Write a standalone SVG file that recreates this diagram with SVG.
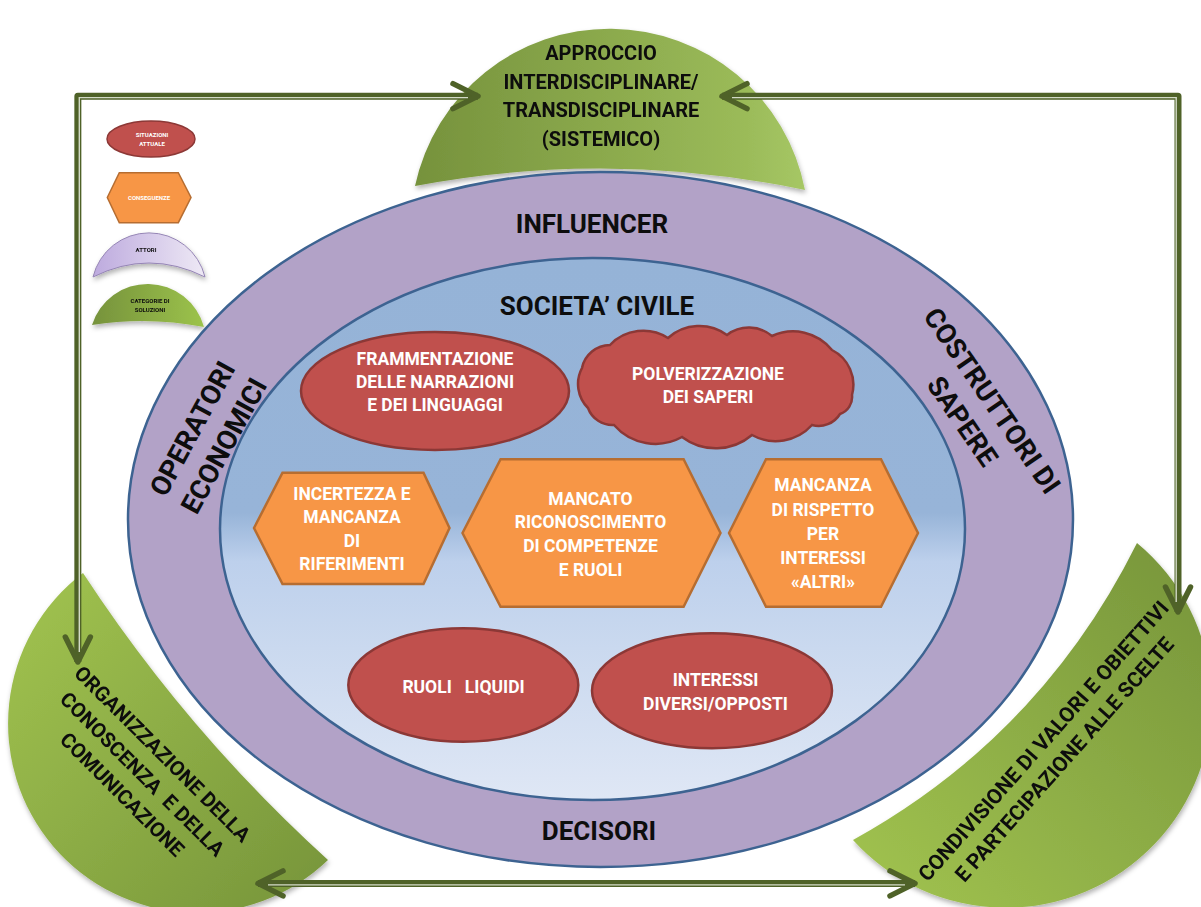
<svg xmlns="http://www.w3.org/2000/svg" width="1201" height="907" viewBox="0 0 1201 907">
<defs>
<style>
text { font-family: Roboto, "Liberation Sans", Arial, sans-serif; font-weight: 700; text-anchor: middle; }
.w { fill: #ffffff; font-size: 17.5px; }
.k { fill: #0d0d0d; }
.lg { font-size: 6px; }
.ring { font-size: 27.5px; fill: #0d0d0d; }
.hd { font-size: 26px; fill: #0d0d0d; }
.sol { font-size: 20px; fill: #0d0d0d; }
.red { fill: #c0504d; stroke: #8c3836; stroke-width: 2.5; }
.org { fill: #f79646; stroke: #b66d31; stroke-width: 2.5; }
.band { stroke: #3d6391; stroke-width: 2.5; }
.fr { fill: none; stroke: #4f6228; stroke-width: 7; stroke-linejoin: round; }
.frl { fill: none; stroke: #d3dbc7; stroke-width: 1.4; }
</style>
<linearGradient id="gTop" x1="0" y1="0" x2="1" y2="0">
<stop offset="0" stop-color="#76923c"/>
<stop offset="0.85" stop-color="#9bbb59"/>
<stop offset="1" stop-color="#a6c765"/>
</linearGradient>
<linearGradient id="gBL" x1="0" y1="0" x2="1" y2="1">
<stop offset="0" stop-color="#a2c450"/>
<stop offset="1" stop-color="#76943a"/>
</linearGradient>
<linearGradient id="gBR" x1="0" y1="1" x2="1" y2="0">
<stop offset="0" stop-color="#a2c450"/>
<stop offset="1" stop-color="#76943a"/>
</linearGradient>
<linearGradient id="gLegG" x1="0" y1="0" x2="1" y2="0">
<stop offset="0" stop-color="#76923c"/>
<stop offset="1" stop-color="#9cc34b"/>
</linearGradient>
<linearGradient id="gLegP" x1="0" y1="0" x2="1" y2="0">
<stop offset="0" stop-color="#bdaade"/>
<stop offset="1" stop-color="#eee9f5"/>
</linearGradient>
<linearGradient id="gInner" gradientUnits="userSpaceOnUse" x1="0" y1="258" x2="0" y2="800">
<stop offset="0" stop-color="#95b3d7"/>
<stop offset="0.47" stop-color="#97b4d8"/>
<stop offset="0.56" stop-color="#bdd0ec"/>
<stop offset="0.72" stop-color="#cad9ef"/>
<stop offset="1" stop-color="#dfe7f5"/>
</linearGradient>
<filter id="sh" x="-15%" y="-15%" width="130%" height="140%">
<feDropShadow dx="1" dy="3" stdDeviation="2.5" flood-color="#000000" flood-opacity="0.3"/>
</filter>
<marker id="ah" markerUnits="userSpaceOnUse" markerWidth="40" markerHeight="40" refX="0" refY="0" orient="auto-start-reverse" overflow="visible">
<path d="M-25,-12.5 L0,0 L-25,12.5" fill="none" stroke="#4f6228" stroke-width="5.5" stroke-linecap="round" stroke-linejoin="round"/>
</marker>
</defs>

<rect x="0" y="0" width="1201" height="907" fill="#ffffff"/>

<g id="legend">
<g id="legend-situazione">
<ellipse class="red" cx="151" cy="139" rx="44" ry="18" style="stroke-width:1.5"/>
<text class="lg" x="152" y="137" fill="#ffffff">SITUAZIONI</text>
<text class="lg" x="152" y="145.5" fill="#ffffff">ATTUALE</text>
</g>
<g id="legend-conseguenze">
<polygon class="org" points="107.3,197.5 119.3,172.7 178.3,172.7 191,197.5 178.3,222.7 119.3,222.7" style="stroke-width:1.5"/>
<text class="lg" x="149" y="199.5" fill="#ffffff">CONSEGUENZE</text>
</g>
<g id="legend-attori" filter="url(#sh)">
<path d="M93,277 A57.6,57.6 0 0 1 205,277 Q149,249 93,277 Z" fill="url(#gLegP)" stroke="#9585b5" stroke-width="1"/>
<text class="lg k" x="146" y="251.5">ATTORI</text>
</g>
<g id="legend-soluzioni" filter="url(#sh)">
<path d="M92,325 A58.3,58.3 0 0 1 204,327 Q148,316 92,325 Z" fill="url(#gLegG)"/>
<text class="lg k" x="150" y="303">CATEGORIE DI</text>
<text class="lg k" x="150" y="312">SOLUZIONI</text>
</g>
</g>

<g id="approccio" filter="url(#sh)">
<path d="M415,186 A199,199 0 0 1 805,190 Q610,149 415,186 Z" fill="url(#gTop)"/>
<text class="sol" x="601" y="60">APPROCCIO</text>
<text class="sol" x="601" y="89">INTERDISCIPLINARE/</text>
<text class="sol" x="601" y="117">TRANSDISCIPLINARE</text>
<text class="sol" x="601" y="145.5">(SISTEMICO)</text>
</g>

<g id="organizzazione" filter="url(#sh)">
<path d="M83,573 A189,189 0 1 0 328,860 Q187,732 83,573 Z" fill="url(#gBL)"/>
<text class="k" style="font-size:20.5px" transform="translate(142.5,774) rotate(45)" xml:space="preserve"><tspan x="0" y="-21.3">ORGANIZZAZIONE DELLA</tspan><tspan x="0" y="7.3">CONOSCENZA  E DELLA</tspan><tspan x="0" y="35.9">COMUNICAZIONE</tspan></text>
</g>

<g id="condivisione" filter="url(#sh)">
<path d="M1137,543 A206,206 0 1 1 853,840 Q1041,736 1137,543 Z" fill="url(#gBR)"/>
<text class="k" style="font-size:21px" transform="translate(1053.7,750) rotate(-48.5)"><tspan x="0" y="-6.4">CONDIVISIONE DI VALORI E OBIETTIVI</tspan><tspan x="0" y="21.4">E PARTECIPAZIONE ALLE SCELTE</tspan></text>
</g>

<g id="attori">
<ellipse class="band" cx="600.5" cy="519.5" rx="472.5" ry="347.5" fill="#b2a2c7"/>
<text class="hd" x="592" y="233">INFLUENCER</text>
<text class="hd" x="599" y="840">DECISORI</text>
<text class="ring" transform="translate(207.9,437.1) rotate(-61.5)"><tspan x="0" y="-8.2">OPERATORI</tspan><tspan x="0" y="27.8">ECONOMICI</tspan></text>
<text class="ring" transform="translate(977.5,410.8) rotate(55.5)"><tspan x="0" y="-8.2">COSTRUTTORI DI</tspan><tspan x="0" y="27.8">SAPERE</tspan></text>
</g>

<g id="societa-civile">
<ellipse class="band" cx="592.5" cy="529" rx="372.5" ry="271" fill="url(#gInner)"/>
<text class="hd" x="597" y="315">SOCIETA’ CIVILE</text>
</g>

<g id="frammentazione">
<ellipse class="red" cx="435" cy="391" rx="134" ry="59"/>
<text class="w" x="435" y="364.5">FRAMMENTAZIONE</text>
<text class="w" x="435" y="388">DELLE NARRAZIONI</text>
<text class="w" x="435" y="411.2">E DEI LINGUAGGI</text>
</g>

<g id="polverizzazione">
<path class="red" d="M582,368 A29,29 0 0 1 610,345 A46,46 0 0 1 668,338 A47,47 0 0 1 727,335 A36,36 0 0 1 772,336 A50,50 0 0 1 832,350 A39,39 0 0 1 852,395 A18,18 0 0 1 840,414 A25,25 0 0 1 812,425 A49,49 0 0 1 752,435 A56,56 0 0 1 682,437 A55,55 0 0 1 614,425 A26,26 0 0 1 588,408 A34,34 0 0 1 582,368 Z"/>
<text class="w" x="708" y="379.5">POLVERIZZAZIONE</text>
<text class="w" x="708" y="403">DEI SAPERI</text>
</g>

<g id="incertezza">
<polygon class="org" points="254,528 282.5,472.7 423.5,472.7 449.5,528 423.5,584 282.5,584"/>
<text class="w" x="352" y="499.5">INCERTEZZA E</text>
<text class="w" x="352" y="523">MANCANZA</text>
<text class="w" x="352" y="546.5">DI</text>
<text class="w" x="352" y="570">RIFERIMENTI</text>
</g>

<g id="mancato-riconoscimento">
<polygon class="org" points="462.5,533 500.6,459.3 683.6,459.3 720.5,533 683.6,606.7 500.6,606.7"/>
<text class="w" x="590.5" y="504.5">MANCATO</text>
<text class="w" x="590.5" y="528">RICONOSCIMENTO</text>
<text class="w" x="590.5" y="552">DI COMPETENZE</text>
<text class="w" x="590.5" y="575.5">E RUOLI</text>
</g>

<g id="mancanza-rispetto">
<polygon class="org" points="729,533 766,459.3 881,459.3 918,533 881,606.7 766,606.7"/>
<text class="w" x="823" y="491.2">MANCANZA</text>
<text class="w" x="823" y="515.5">DI RISPETTO</text>
<text class="w" x="823" y="539.5">PER</text>
<text class="w" x="823" y="563.5">INTERESSI</text>
<text class="w" x="823" y="588">«ALTRI»</text>
</g>

<g id="ruoli-liquidi">
<ellipse class="red" cx="463.3" cy="685" rx="115" ry="56.7"/>
<text class="w" x="463.5" y="693" xml:space="preserve">RUOLI   LIQUIDI</text>
</g>

<g id="interessi-diversi">
<ellipse class="red" cx="712" cy="690.8" rx="120" ry="57.5"/>
<text class="w" x="715.5" y="685.5">INTERESSI</text>
<text class="w" x="715.5" y="709.5">DIVERSI/OPPOSTI</text>
</g>

<g id="connectors">
<path class="fr" d="M478,96.15 H77.85 V662" marker-start="url(#ah)" marker-end="url(#ah)"/>
<path class="frl" d="M468,97.6 H79.3 V652"/>
<path class="fr" d="M722,96.15 H1178 V612" marker-start="url(#ah)" marker-end="url(#ah)"/>
<path class="frl" d="M732,97.6 H1176.2 V602"/>
<path class="fr" d="M258,883.4 H915" marker-start="url(#ah)" marker-end="url(#ah)"/>
<path class="frl" d="M268,884.9 H905"/>
</g>
</svg>
